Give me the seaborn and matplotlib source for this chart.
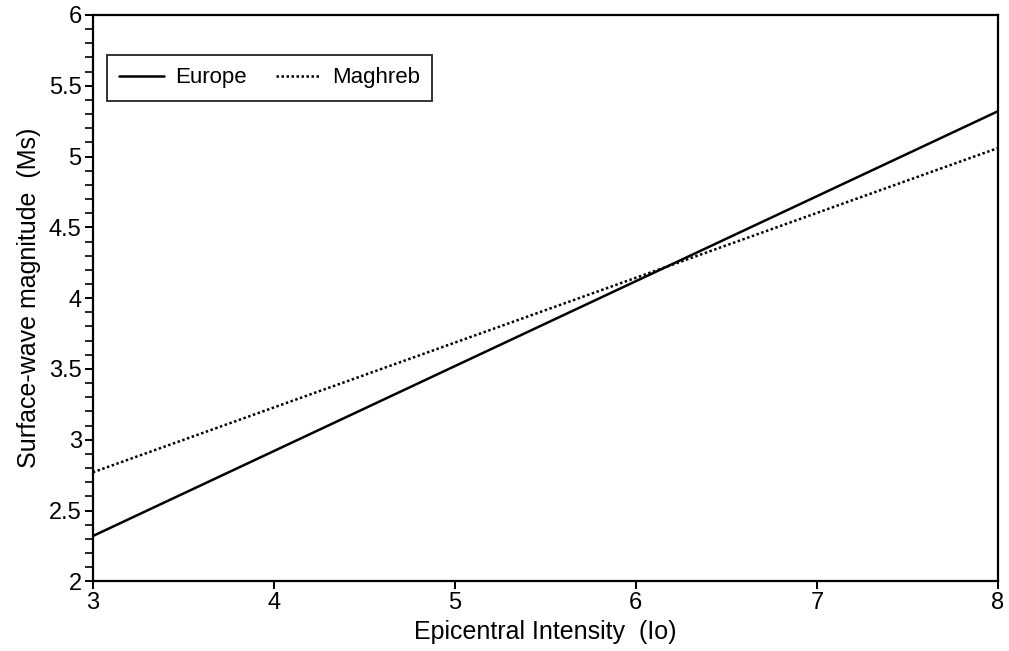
import matplotlib
matplotlib.use("Agg")
import matplotlib.pyplot as plt
import seaborn as sns
import pandas as pd
from matplotlib.ticker import MultipleLocator, FuncFormatter

# Regression lines Ms = f(Io) for two regions
intensity = [3, 8]
europe_ms = [2.32, 5.32]
maghreb_ms = [2.77, 5.06]

df = pd.concat([
    pd.DataFrame({"Io": intensity, "Ms": europe_ms, "Region": "Europe"}),
    pd.DataFrame({"Io": intensity, "Ms": maghreb_ms, "Region": "Maghreb"}),
])

sns.set_theme(style="ticks")
plt.rcParams["font.family"] = ["Liberation Sans", "DejaVu Sans"]
plt.rcParams["text.color"] = "black"
plt.rcParams["axes.labelcolor"] = "black"

fig = plt.figure(figsize=(10.09, 6.51), dpi=100)
ax = fig.add_axes([0.092, 0.107, 0.897, 0.870])

sns.lineplot(data=df, x="Io", y="Ms", hue="Region", style="Region",
             palette={"Europe": "black", "Maghreb": "black"},
             dashes={"Europe": "", "Maghreb": (1, 1)},
             linewidth=1.8, ax=ax)

ax.set_xlim(3, 8)
ax.set_ylim(2, 6)
ax.xaxis.set_major_locator(MultipleLocator(1))
ax.yaxis.set_major_locator(MultipleLocator(0.5))
ax.yaxis.set_minor_locator(MultipleLocator(0.1))
ax.yaxis.set_major_formatter(FuncFormatter(lambda v, p: f"{v:g}"))

for s in ax.spines.values():
    s.set_visible(True)
    s.set_linewidth(1.6)
    s.set_color("black")

ax.tick_params(axis="both", which="major", direction="out", length=6,
               width=1.4, labelsize=17, colors="black", pad=2)
ax.tick_params(axis="y", which="minor", direction="out", length=6,
               width=1.2, colors="black")

ax.set_xlabel("Epicentral Intensity  (Io)", fontsize=18, labelpad=4)
ax.set_ylabel("Surface-wave magnitude  (Ms)", fontsize=18, labelpad=6)

leg = ax.legend(loc="upper left", ncol=2, bbox_to_anchor=(0.0155, 0.929),
                frameon=True, fancybox=False, fontsize=16,
                handlelength=2.0, handletextpad=0.5, columnspacing=1.35,
                borderpad=0.55, borderaxespad=0.0, edgecolor="black")
leg.get_frame().set_linewidth(1.4)
leg.set_title(None)
for t in leg.get_texts():
    t.set_color("black")

fig.savefig("out.png", dpi=100, facecolor="white")
